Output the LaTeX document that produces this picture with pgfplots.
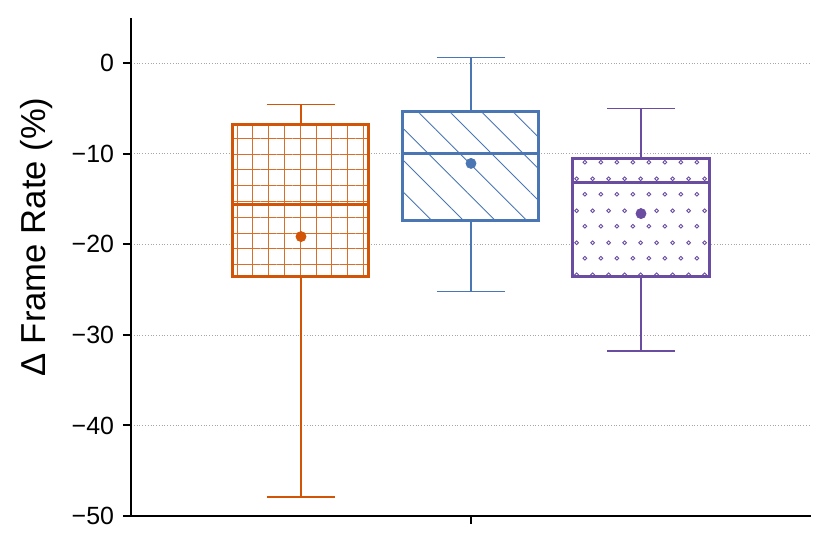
\documentclass[border=0pt]{standalone}
\usepackage{fontspec}
\setmainfont{Liberation Sans}
\usepackage{pgfplots}
\pgfplotsset{compat=1.18}
\usepgfplotslibrary{statistics}
\usetikzlibrary{patterns,patterns.meta}

\definecolor{cOrange}{RGB}{210,84,6}
\definecolor{cBlue}{RGB}{74,119,180}
\definecolor{cPurple}{RGB}{106,76,160}

% small open rings, staggered rows
\pgfdeclarepatternformonly{ringdots}{\pgfpointorigin}{\pgfpoint{7.85bp}{15.7bp}}{\pgfpoint{7.85bp}{15.7bp}}{%
  \pgfsetlinewidth{0.4bp}%
  \pgfpathcircle{\pgfpoint{1.96bp}{3.92bp}}{0.95bp}%
  \pgfpathcircle{\pgfpoint{5.89bp}{11.77bp}}{0.95bp}%
  \pgfusepath{stroke}}

\begin{document}
\begin{tikzpicture}
\begin{axis}[
  width=340bp, height=249bp, scale only axis,
  xmin=-2, xmax=2, ymin=-50, ymax=5,
  axis x line*=bottom, axis y line*=left,
  axis line style={-, line width=1bp, black},
  xtick={0}, xticklabels={},
  ytick={-50,-40,-30,-20,-10,0},
  yticklabels={−50,−40,−30,−20,−10,0},
  tick align=outside, major tick length=4bp,
  tick style={line width=1bp, black},
  yticklabel style={font=\fontsize{12.5}{15}\selectfont, xshift=-1bp},
  ymajorgrids,
  major grid style={densely dotted, gray!70, line width=0.4bp},
  every axis y label/.style={at={(axis description cs:0,0.56)}, xshift=-42.5bp, rotate=90, anchor=base, inner sep=0pt, font=\fontsize{17.4}{21}\selectfont},
  ylabel={Δ Frame Rate (\%)},
  boxplot/draw direction=y,
  boxplot/every whisker/.style={line width=0.75bp},
  boxplot/box extend=0.8,
  boxplot/whisker extend=0.4,
]
% orange, grid hatch
\addplot[cOrange, line width=1.5bp,
  boxplot prepared={draw position=-1, lower whisker=-47.9, lower quartile=-23.56,
    median=-15.6, upper quartile=-6.75, upper whisker=-4.54},
  boxplot/every box/.style={draw, preaction={fill=white},
    pattern={Hatch[angle=0,distance=7.9bp,line width=0.4bp]}, pattern color=cOrange!85}]
  coordinates {};
% blue, diagonal lines
\addplot[cBlue, line width=1.5bp,
  boxplot prepared={draw position=0, lower whisker=-25.2, lower quartile=-17.37,
    median=-9.96, upper quartile=-5.31, upper whisker=0.66},
  boxplot/every box/.style={draw, preaction={fill=white},
    pattern={Lines[angle=-45,distance=11.2bp,line width=0.45bp]}, pattern color=cBlue}]
  coordinates {};
% purple, ring dots
\addplot[cPurple, line width=1.5bp,
  boxplot prepared={draw position=1, lower whisker=-31.75, lower quartile=-23.56,
    median=-13.16, upper quartile=-10.5, upper whisker=-4.98},
  boxplot/every box/.style={draw, preaction={fill=white},
    pattern=ringdots, pattern color=cPurple}]
  coordinates {};
% means
\addplot[only marks, mark=*, mark size=2.5bp, cOrange] coordinates {(-1,-19.14)};
\addplot[only marks, mark=*, mark size=2.5bp, cBlue] coordinates {(0,-11.06)};
\addplot[only marks, mark=*, mark size=2.5bp, cPurple] coordinates {(1,-16.6)};
\end{axis}
\pgfresetboundingbox
\path ([xshift=-65.5bp,yshift=-16.5bp]current axis.south west) rectangle ([xshift=9.5bp,yshift=9bp]current axis.north east);
\end{tikzpicture}
\end{document}
